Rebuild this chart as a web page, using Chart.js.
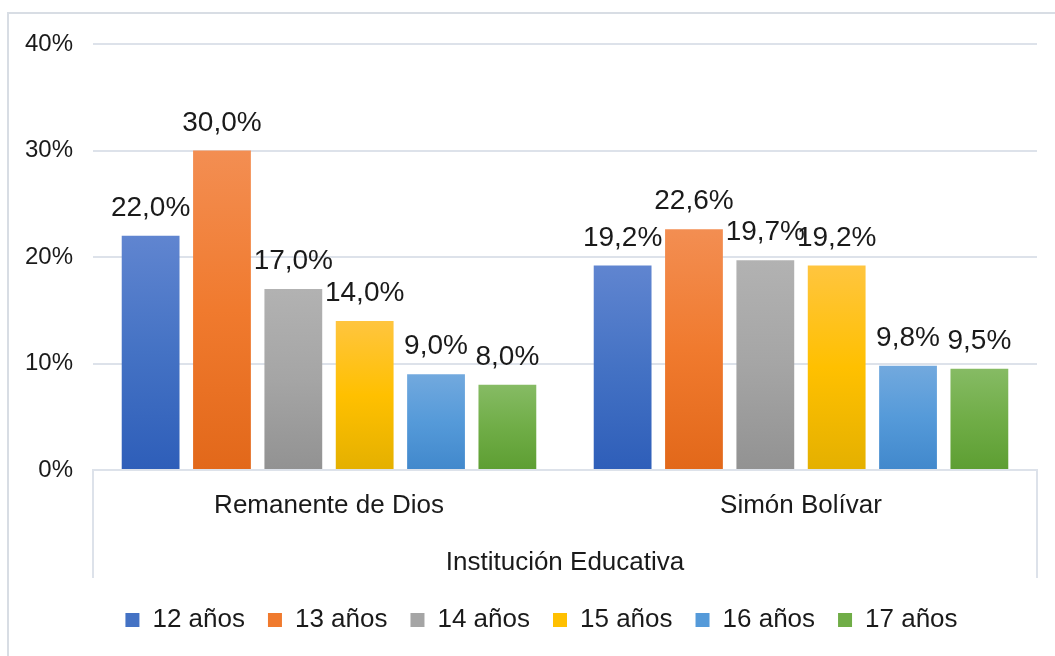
<!DOCTYPE html>
<html>
<head>
<meta charset="utf-8">
<script src="https://cdn.jsdelivr.net/npm/chart.js@4"></script>
<style>
  html, body { margin: 0; padding: 0; background: #fff; overflow: hidden; }
  #wrap { position: relative; width: 1055px; height: 656px; }
</style>
</head>
<body>
<div id="wrap"><canvas id="mainGraph" width="1055" height="656"></canvas></div>
<script>
// categorias y series
var categories = ['Remanente de Dios', 'Simón Bolívar'];
var seriesNames = ['12 años', '13 años', '14 años', '15 años', '16 años', '17 años'];
var edad12 = [22.0, 19.2];
var edad13 = [30.0, 22.6];
var edad14 = [17.0, 19.7];
var edad15 = [14.0, 19.2];
var edad16 = [9.0, 9.8];
var edad17 = [8.0, 9.5];
var yTicks = [0, 10, 20, 30, 40];

// colores: [arriba, medio, abajo]
var palette = [
    ['#6085d0', '#4472c4', '#2e5eb9'],
    ['#f38e52', '#f07a2e', '#e2681a'],
    ['#b2b2b2', '#a5a5a5', '#929292'],
    ['#ffc53f', '#ffc000', '#e4b000'],
    ['#72a9de', '#559ad9', '#4188cc'],
    ['#86bb64', '#70ad47', '#5d9e32']
];

function barGradient(i) {
    return function (context) {
        var chart = context.chart;
        if (!chart.chartArea || context.raw === undefined) return palette[i][1];
        var y = chart.scales.y;
        var top = y.getPixelForValue(context.raw);
        var bottom = y.getPixelForValue(0);
        if (!isFinite(top) || !isFinite(bottom) || top === bottom) return palette[i][1];
        var g = chart.ctx.createLinearGradient(0, top, 0, bottom);
        g.addColorStop(0, palette[i][0]);
        g.addColorStop(0.5, palette[i][1]);
        g.addColorStop(1, palette[i][2]);
        return g;
    };
}

var allData = [edad12, edad13, edad14, edad15, edad16, edad17];
var datasets = [];
for (var i = 0; i < seriesNames.length; i++) {
    datasets.push({
        label: seriesNames[i],
        data: allData[i],
        backgroundColor: barGradient(i),
        borderWidth: 0,
        categoryPercentage: 0.907,
        barPercentage: 0.81
    });
}

var txt = '#1a1a1a';
var gridCol = '#dde2ea';
var fontFam = '"Liberation Sans", Arial, sans-serif';

// marco exterior y lineas de la tabla del eje
var framePlugin = {
    id: 'frame',
    afterLayout: function (chart) {
        // centrar la leyenda como en el original
        chart.legend.left += 13;
        chart.legend.right += 13;
    },
    beforeDraw: function (chart) {
        var ctx = chart.ctx;
        ctx.save();
        ctx.strokeStyle = '#d8dde4';
        ctx.lineWidth = 2;
        ctx.strokeRect(8, 13, 1100, 700);
        ctx.restore();
    },
    afterDraw: function (chart) {
        var ctx = chart.ctx;
        var a = chart.chartArea;
        ctx.save();
        ctx.strokeStyle = gridCol;
        ctx.lineWidth = 2;
        ctx.beginPath();
        ctx.moveTo(a.left, a.bottom);
        ctx.lineTo(a.left, a.bottom + 108);
        ctx.moveTo(a.right, a.bottom);
        ctx.lineTo(a.right, a.bottom + 108);
        ctx.stroke();
        ctx.restore();
    }
};

// etiquetas de datos encima de las barras
var labelPlugin = {
    id: 'valueLabels',
    afterDatasetsDraw: function (chart) {
        var ctx = chart.ctx;
        ctx.save();
        ctx.font = '28px ' + fontFam;
        ctx.fillStyle = txt;
        ctx.textAlign = 'center';
        ctx.textBaseline = 'alphabetic';
        chart.data.datasets.forEach(function (ds, di) {
            var meta = chart.getDatasetMeta(di);
            meta.data.forEach(function (el, j) {
                var s = ds.data[j].toFixed(1).replace('.', ',') + '%';
                ctx.fillText(s, el.x, el.y - 20);
            });
        });
        ctx.restore();
    }
};

var ctx = document.getElementById('mainGraph').getContext('2d');
var chart = new Chart(ctx, {
    type: 'bar',
    data: {
        labels: categories,
        datasets: datasets
    },
    options: {
        responsive: false,
        animation: false,
        layout: { padding: { left: 20, right: 18, top: 44, bottom: 13 } },
        scales: {
            x: {
                grid: { display: false, drawTicks: false },
                border: { display: true, color: gridCol, width: 2 },
                ticks: { color: txt, font: { family: fontFam, size: 26 }, padding: 20 },
                title: {
                    display: true,
                    text: 'Institución Educativa',
                    color: txt,
                    font: { family: fontFam, size: 26 },
                    padding: { top: 0, bottom: 6 }
                },
                afterFit: function (scale) { scale.height = 114; }
            },
            y: {
                min: 0,
                max: 40,
                afterBuildTicks: function (scale) {
                    scale.ticks = yTicks.map(function (v) { return { value: v }; });
                },
                grid: { color: gridCol, lineWidth: 2, drawTicks: false },
                border: { display: false },
                ticks: {
                    color: txt,
                    font: { family: fontFam, size: 24 },
                    padding: 20,
                    callback: function (v) { return v + '%'; }
                },
                afterFit: function (scale) { scale.width = 73; }
            }
        },
        plugins: {
            legend: {
                position: 'bottom',
                labels: {
                    boxWidth: 14,
                    boxHeight: 14,
                    padding: 23,
                    color: txt,
                    font: { family: fontFam, size: 26 },
                    generateLabels: function (chart) {
                        return chart.data.datasets.map(function (ds, i) {
                            return {
                                text: ds.label,
                                fillStyle: palette[i][1],
                                strokeStyle: palette[i][1],
                                lineWidth: 0,
                                hidden: false,
                                datasetIndex: i,
                                fontColor: txt
                            };
                        });
                    }
                }
            },
            tooltip: { enabled: false }
        }
    },
    plugins: [framePlugin, labelPlugin]
});
</script>
</body>
</html>
